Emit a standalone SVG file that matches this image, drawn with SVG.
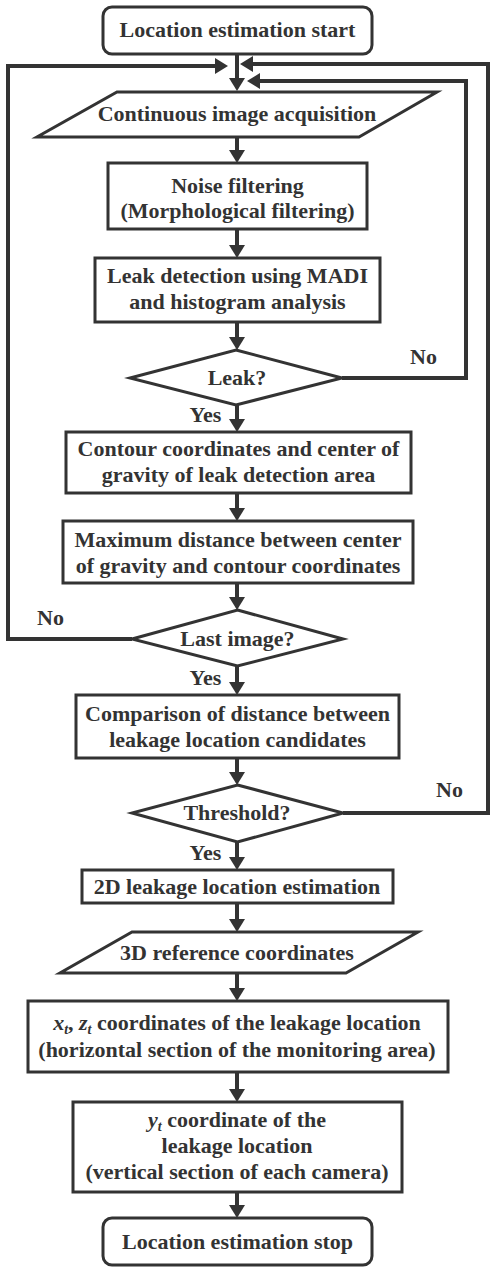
<svg xmlns="http://www.w3.org/2000/svg" width="490" height="1267" viewBox="0 0 490 1267">
<style>
.n{fill:#fff;stroke:#333;stroke-width:3}
.t{font-family:"Liberation Serif","Times New Roman",serif;font-weight:bold;font-size:22px;fill:#333;text-anchor:middle}
.c{fill:none;stroke:#333;stroke-width:4}
</style>
<defs>
<marker id="ah" viewBox="0 0 13 16" refX="7" refY="8" markerWidth="13" markerHeight="16" markerUnits="userSpaceOnUse" orient="auto">
<path d="M0,0 L13,8 L0,16 z" fill="#333"/>
</marker>
</defs>
<rect width="490" height="1267" fill="#fff"/>
<g id="connectors">
<line class="c" x1="237" y1="54" x2="237" y2="85" marker-end="url(#ah)"/>
<line class="c" x1="237" y1="137" x2="237" y2="157" marker-end="url(#ah)"/>
<line class="c" x1="237" y1="229" x2="237" y2="252" marker-end="url(#ah)"/>
<line class="c" x1="237" y1="322" x2="237" y2="344" marker-end="url(#ah)"/>
<line class="c" x1="237" y1="405" x2="237" y2="426" marker-end="url(#ah)"/>
<line class="c" x1="237" y1="493" x2="237" y2="515" marker-end="url(#ah)"/>
<line class="c" x1="237" y1="583" x2="237" y2="604" marker-end="url(#ah)"/>
<line class="c" x1="237" y1="666" x2="237" y2="689" marker-end="url(#ah)"/>
<line class="c" x1="237" y1="758" x2="237" y2="779" marker-end="url(#ah)"/>
<line class="c" x1="237" y1="842" x2="237" y2="864" marker-end="url(#ah)"/>
<line class="c" x1="237" y1="903" x2="237" y2="926" marker-end="url(#ah)"/>
<line class="c" x1="237" y1="973" x2="237" y2="995" marker-end="url(#ah)"/>
<line class="c" x1="237" y1="1072" x2="237" y2="1096" marker-end="url(#ah)"/>
<line class="c" x1="237" y1="1192" x2="237" y2="1212" marker-end="url(#ah)"/>
<polyline class="c" points="132,639 8,639 8,66 222,66" marker-end="url(#ah)"/>
<polyline class="c" points="342,378 466,378 466,81 253,81" marker-end="url(#ah)"/>
<polyline class="c" points="343,813 488,813 488,64 246,64" marker-end="url(#ah)"/>
</g>
<g id="start">
<rect class="n" x="103" y="7" width="269" height="47" rx="9"/>
<text class="t" x="237.5" y="37">Location estimation start</text>
</g>
<g id="acquisition">
<polygon class="n" points="117,92 437,92 359,137 37,137"/>
<text class="t" x="237" y="121">Continuous image acquisition</text>
</g>
<g id="noise">
<rect class="n" x="108" y="163" width="259" height="66"/>
<text class="t" x="237.5" y="193">Noise filtering</text>
<text class="t" x="237.5" y="218">(Morphological filtering)</text>
</g>
<g id="leakdetect">
<rect class="n" x="95" y="258" width="285" height="64"/>
<text class="t" x="237.5" y="283">Leak detection using MADI</text>
<text class="t" x="237.5" y="309">and histogram analysis</text>
</g>
<g id="leak">
<polygon class="n" points="236,350 342,378 236,405 130,378"/>
<text class="t" x="237" y="385">Leak?</text>
</g>
<g id="contour">
<rect class="n" x="66" y="432" width="345" height="61"/>
<text class="t" x="238.5" y="456">Contour coordinates and center of</text>
<text class="t" x="238.5" y="482">gravity of leak detection area</text>
</g>
<g id="maxdist">
<rect class="n" x="63" y="521" width="350" height="62"/>
<text class="t" x="238" y="547">Maximum distance between center</text>
<text class="t" x="238" y="573">of gravity and contour coordinates</text>
</g>
<g id="lastimage">
<polygon class="n" points="237.5,610 343,639 237.5,666 132,639"/>
<text class="t" x="237.5" y="646">Last image?</text>
</g>
<g id="comparison">
<rect class="n" x="76" y="695" width="323" height="63"/>
<text class="t" x="237.5" y="721">Comparison of distance between</text>
<text class="t" x="237.5" y="747">leakage location candidates</text>
</g>
<g id="threshold">
<polygon class="n" points="237.5,785 343,813 237.5,842 132,813"/>
<text class="t" x="237" y="820">Threshold?</text>
</g>
<g id="est2d">
<rect class="n" x="82" y="870" width="311" height="33"/>
<text class="t" x="237" y="894">2D leakage location estimation</text>
</g>
<g id="ref3d">
<polygon class="n" points="132,932 418,932 346,973 60,973"/>
<text class="t" x="237" y="960">3D reference coordinates</text>
</g>
<g id="xz">
<rect class="n" x="28" y="1001" width="420" height="71"/>
<text class="t" x="237" y="1030"><tspan font-style="italic">x</tspan><tspan font-style="italic" font-size="14" dy="4">t</tspan><tspan dy="-4">, </tspan><tspan font-style="italic">z</tspan><tspan font-style="italic" font-size="14" dy="4">t</tspan><tspan dy="-4"> coordinates of the leakage location</tspan></text>
<text class="t" x="237" y="1057">(horizontal section of the monitoring area)</text>
</g>
<g id="y">
<rect class="n" x="73" y="1102" width="329" height="90"/>
<text class="t" x="237" y="1127"><tspan font-style="italic">y</tspan><tspan font-style="italic" font-size="14" dy="4">t</tspan><tspan dy="-4"> coordinate of the</tspan></text>
<text class="t" x="237" y="1153">leakage location</text>
<text class="t" x="237" y="1179">(vertical section of each camera)</text>
</g>
<g id="stop">
<rect class="n" x="103" y="1218" width="269" height="47" rx="9"/>
<text class="t" x="237.5" y="1249">Location estimation stop</text>
</g>
<g id="labels">
<text class="t" x="423.5" y="364">No</text>
<text class="t" x="205.5" y="422">Yes</text>
<text class="t" x="50.5" y="625">No</text>
<text class="t" x="205.5" y="685">Yes</text>
<text class="t" x="449.5" y="797">No</text>
<text class="t" x="205.5" y="860">Yes</text>
</g>
</svg>
